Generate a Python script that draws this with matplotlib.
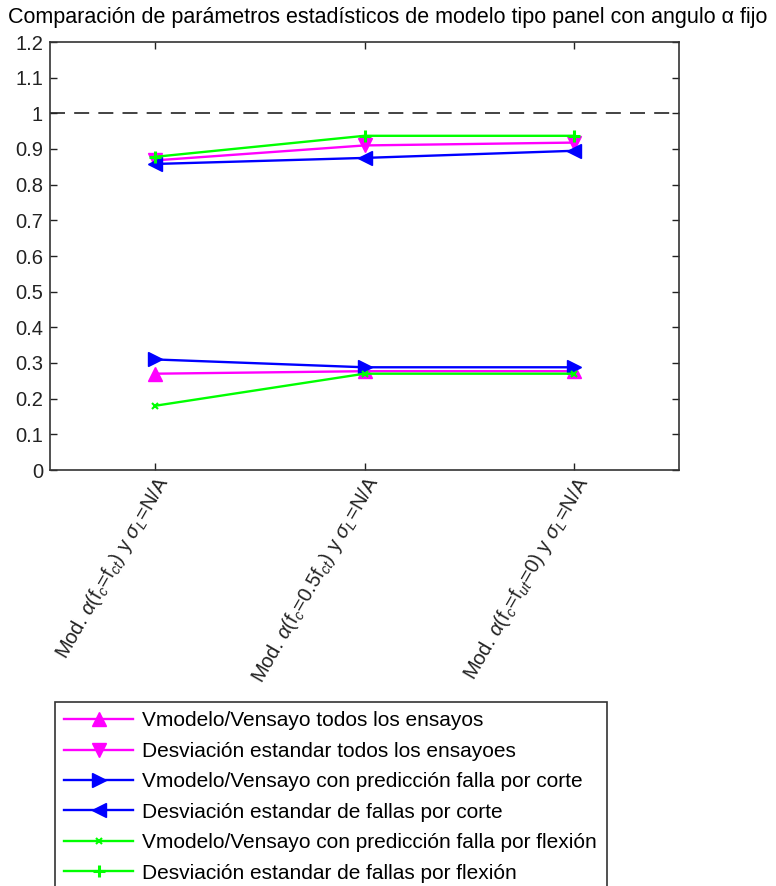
import matplotlib

matplotlib.use("Agg")
import matplotlib.pyplot as plt
from matplotlib.ticker import FormatStrFormatter

CATEGORIES = [
    r"Mod. $\alpha$(f$_c$=f$_{ct}$) y $\sigma_L$=N/A",
    r"Mod. $\alpha$(f$_c$=0.5f$_{ct}$) y $\sigma_L$=N/A",
    r"Mod. $\alpha$(f$_c$=f$_{ut}$=0) y $\sigma_L$=N/A",
]

RATIO_ALL = [0.270, 0.277, 0.277]
STD_ALL = [0.868, 0.910, 0.918]
RATIO_SHEAR = [0.310, 0.288, 0.288]
STD_SHEAR = [0.858, 0.875, 0.895]
RATIO_FLEX = [0.180, 0.270, 0.270]
STD_FLEX = [0.878, 0.937, 0.937]

LABELS = [
    "Vmodelo/Vensayo todos los ensayos",
    "Desviación estandar todos los ensayoes",
    "Vmodelo/Vensayo con predicción falla por corte",
    "Desviación estandar de fallas por corte",
    "Vmodelo/Vensayo con predicción falla por flexión",
    "Desviación estandar de fallas por flexión",
]

SERIES = [
    (RATIO_ALL, "#ff00ff", "^", 10, 1.0),
    (STD_ALL, "#ff00ff", "v", 10, 1.0),
    (RATIO_SHEAR, "#0000ff", ">", 10, 1.0),
    (STD_SHEAR, "#0000ff", "<", 10, 1.0),
    (RATIO_FLEX, "#00ff00", "x", 4, 1.5),
    (STD_FLEX, "#00ff00", "+", 9, 2.2),
]

plt.rcParams.update(
    {
        "font.family": ["Liberation Sans", "DejaVu Sans"],
        "mathtext.fontset": "custom",
        "mathtext.rm": "Liberation Sans",
        "mathtext.it": "Liberation Sans:italic",
        "mathtext.bf": "Liberation Sans:bold",
        "font.size": 14,
    }
)

fig = plt.figure(figsize=(7.76, 8.86), dpi=100)
ax = fig.add_axes([50 / 776, 1 - 470 / 886, 629 / 776, 428 / 886])

x = [1, 2, 3]
for (values, color, marker, size, mew), label in zip(SERIES, LABELS):
    ax.plot(
        x,
        values,
        color=color,
        marker=marker,
        markersize=size,
        markeredgewidth=mew,
        linewidth=1.7,
        label=label,
    )

ax.axhline(1.0, color="#222222", linestyle=(0, (9, 5.5)), linewidth=1.2)

ax.set_xlim(0.5, 3.5)
ax.set_ylim(0, 1.2)
ax.set_yticks([i / 10 for i in range(13)])
ax.yaxis.set_major_formatter(FormatStrFormatter("%g"))
ax.set_xticks(x)
ax.set_xticklabels(CATEGORIES, rotation=60, ha="right", va="top", rotation_mode="anchor", fontsize=14.5)
ax.tick_params(direction="in", length=5, width=1, top=True, right=True, labelsize=14.5, colors="#222222")
ax.tick_params(axis="x", pad=2)
ax.tick_params(axis="y", pad=5)
for spine in ax.spines.values():
    spine.set_linewidth(1.2)
    spine.set_color("#333333")

fig.text(388 / 776, 1 - 17 / 886, "Comparación de parámetros estadísticos de modelo tipo panel con angulo α fijo",
         ha="center", va="center", fontsize=15.5)

leg = fig.legend(
    loc="upper left",
    bbox_to_anchor=(55 / 776, 1 - 702 / 886),
    borderaxespad=0,
    numpoints=1,
    fancybox=False,
    edgecolor="#333333",
    fontsize=15,
    handlelength=3.3,
    handletextpad=0.45,
    labelspacing=0.55,
    borderpad=0.45,
    framealpha=1,
)
leg.get_frame().set_linewidth(1.2)

fig.savefig("out.png", dpi=100)
